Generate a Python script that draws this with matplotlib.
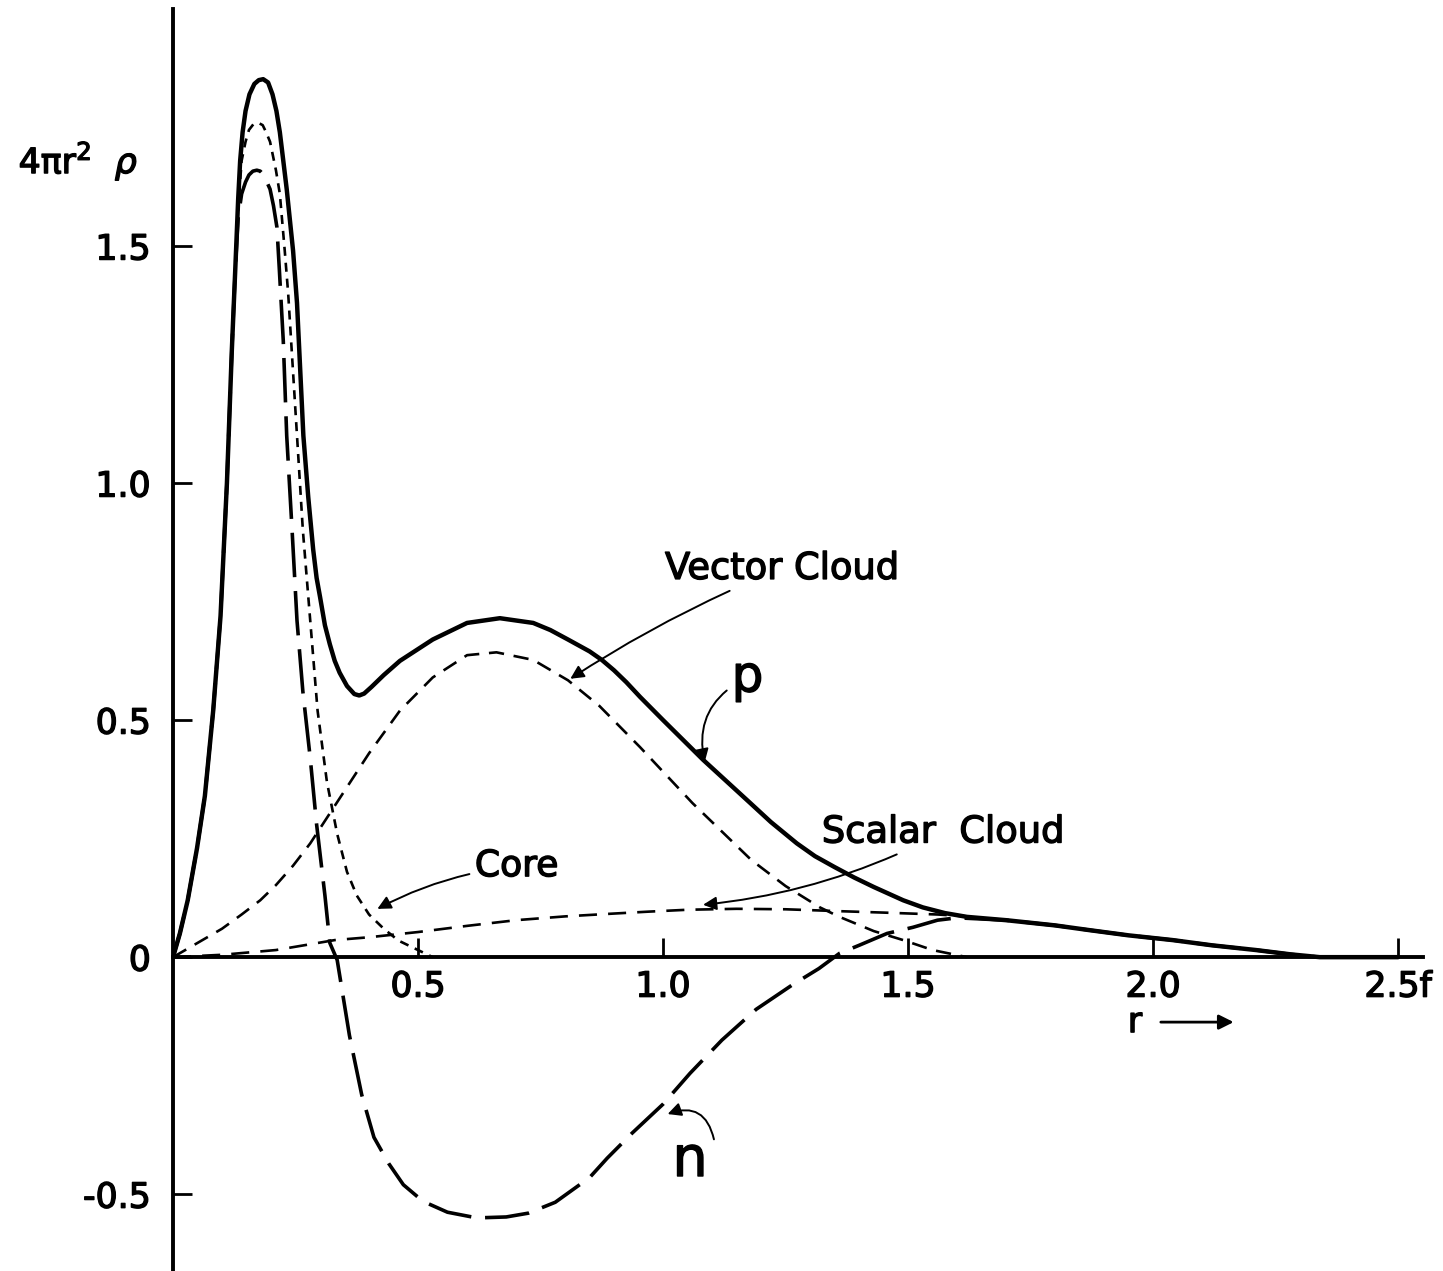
import matplotlib
matplotlib.use('Agg')
import matplotlib.pyplot as plt
import matplotlib.patheffects as pe

plt.rcParams['lines.scale_dashes'] = False
plt.rcParams['font.family'] = 'DejaVu Sans'

# radial densities (r in fermi)
p_r = [0.0, 0.014, 0.03, 0.049, 0.065, 0.082, 0.097, 0.11, 0.12, 0.127, 0.133, 0.137, 0.142,
       0.148, 0.156, 0.166, 0.175, 0.184, 0.194, 0.203, 0.211, 0.218, 0.225, 0.232, 0.239,
       0.245, 0.253, 0.266, 0.276, 0.286, 0.293, 0.30, 0.31, 0.32, 0.33, 0.34, 0.355, 0.37,
       0.38, 0.39, 0.405, 0.43, 0.463, 0.53, 0.60, 0.667, 0.735, 0.77, 0.806, 0.85, 0.875,
       0.90, 0.925, 0.953, 1.0, 1.082, 1.178, 1.22, 1.273, 1.31, 1.35, 1.39, 1.43, 1.49,
       1.53, 1.575, 1.62, 1.70, 1.80, 1.87, 1.95, 2.04, 2.12, 2.21, 2.28, 2.34, 2.5]
p_v = [0.0, 0.05, 0.12, 0.23, 0.34, 0.52, 0.72, 1.0, 1.28, 1.45, 1.60, 1.68, 1.74,
       1.785, 1.82, 1.842, 1.85, 1.852, 1.845, 1.82, 1.785, 1.74, 1.68, 1.62, 1.55,
       1.49, 1.38, 1.10, 0.97, 0.86, 0.80, 0.76, 0.70, 0.66, 0.625, 0.60, 0.572, 0.555,
       0.552, 0.556, 0.57, 0.595, 0.625, 0.67, 0.705, 0.715, 0.705, 0.69, 0.67, 0.645, 0.627,
       0.605, 0.58, 0.549, 0.50, 0.416, 0.325, 0.285, 0.24, 0.213, 0.19, 0.168, 0.148, 0.12,
       0.105, 0.093, 0.085, 0.078, 0.067, 0.057, 0.046, 0.036, 0.025, 0.015, 0.006, 0.0, 0.0]

core_r = [0.0, 0.014, 0.03, 0.049, 0.065, 0.082, 0.097, 0.11, 0.12, 0.127, 0.133, 0.14, 0.148,
          0.155, 0.164, 0.174, 0.183, 0.19, 0.198, 0.21, 0.218, 0.228, 0.235, 0.253, 0.265,
          0.28, 0.295, 0.314, 0.335, 0.355, 0.375, 0.40, 0.43, 0.46, 0.50, 0.53]
core_v = [0.0, 0.05, 0.12, 0.23, 0.34, 0.52, 0.72, 1.0, 1.28, 1.45, 1.58, 1.68, 1.72,
          1.745, 1.757, 1.76, 1.755, 1.74, 1.72, 1.66, 1.61, 1.49, 1.40, 1.10, 0.90,
          0.71, 0.52, 0.37, 0.26, 0.18, 0.13, 0.09, 0.06, 0.035, 0.015, 0.0]

n_r = [0.0, 0.014, 0.03, 0.049, 0.065, 0.082, 0.097, 0.11, 0.12, 0.127, 0.133, 0.14, 0.148,
       0.155, 0.163, 0.171, 0.178, 0.185, 0.198, 0.205, 0.212, 0.217, 0.225, 0.232, 0.243,
       0.253, 0.265, 0.28, 0.293, 0.31, 0.32, 0.335, 0.36, 0.385, 0.41, 0.44, 0.47, 0.51,
       0.56, 0.62, 0.68, 0.725, 0.78, 0.85, 0.886, 0.937, 1.0, 1.055, 1.12, 1.19, 1.263,
       1.318, 1.36, 1.40, 1.457, 1.51, 1.56, 1.60, 1.70, 1.80, 1.87, 1.95, 2.04, 2.12, 2.21,
       2.28, 2.34]
n_v = [0.0, 0.05, 0.12, 0.23, 0.34, 0.52, 0.72, 1.0, 1.28, 1.45, 1.56, 1.61, 1.635,
       1.65, 1.658, 1.66, 1.658, 1.65, 1.62, 1.585, 1.54, 1.45, 1.30, 1.10, 0.90,
       0.71, 0.56, 0.42, 0.28, 0.13, 0.03, -0.006, -0.165, -0.29, -0.38, -0.435, -0.48, -0.515,
       -0.538, -0.55, -0.548, -0.54, -0.517, -0.465, -0.424, -0.371, -0.31, -0.245, -0.175, -0.11, -0.059,
       -0.024, 0.008, 0.025, 0.05, 0.063, 0.078, 0.083, 0.078, 0.067, 0.057, 0.046, 0.036, 0.025, 0.015,
       0.006, 0.0]

vec_r = [0.0, 0.05, 0.10, 0.14, 0.178, 0.21, 0.245, 0.28, 0.34, 0.40, 0.463, 0.53, 0.60,
         0.66, 0.735, 0.806, 0.87, 0.953, 1.06, 1.18, 1.25, 1.32, 1.36, 1.43, 1.49, 1.55, 1.62]
vec_v = [0.0, 0.03, 0.06, 0.09, 0.12, 0.152, 0.193, 0.24, 0.335, 0.43, 0.52, 0.59, 0.637,
         0.643, 0.627, 0.584, 0.53, 0.443, 0.325, 0.205, 0.15, 0.105, 0.085, 0.055, 0.036,
         0.015, 0.0]

sca_r = [0.0, 0.1, 0.21, 0.33, 0.40, 0.50, 0.60, 0.70, 0.80, 0.90, 0.97, 1.05, 1.15, 1.25,
         1.36, 1.45, 1.56, 1.62]
sca_v = [0.0, 0.005, 0.015, 0.036, 0.042, 0.053, 0.066, 0.078, 0.086, 0.092, 0.096, 0.100,
         0.102, 0.101, 0.097, 0.094, 0.090, 0.086]

xticks = [0.5, 1.0, 1.5, 2.0, 2.5]
xticklabels = ['0.5', '1.0', '1.5', '2.0', '2.5f']
yticks = [-0.5, 0, 0.5, 1.0, 1.5]
yticklabels = ['-0.5', '0', '0.5', '1.0', '1.5']

heavy = [pe.withStroke(linewidth=1.0, foreground='black')]

fig = plt.figure(figsize=(14.43, 12.71), dpi=100)
ax = fig.add_axes([0.1199, 0.0, 0.866, 1.0])

ax.plot(p_r, p_v, color='black', lw=3.2, solid_joinstyle='round', solid_capstyle='round')
ax.plot(core_r, core_v, color='black', lw=1.9, dashes=(6.5, 5))
ax.plot(vec_r, vec_v, color='black', lw=1.9, dashes=(11, 7))
ax.plot(sca_r, sca_v, color='black', lw=1.9, dashes=(13, 8))
ax.plot(n_r, n_v, color='black', lw=2.6, dashes=(32, 10))

ax.set_xlim(0, 2.55)
ax.set_ylim(-0.662, 2.019)
for s in ['top', 'right']:
    ax.spines[s].set_visible(False)
ax.spines['bottom'].set_position(('data', 0))
ax.spines['left'].set_position(('data', 0))
ax.spines['left'].set_bounds(-0.662, 2.0)
ax.spines['bottom'].set_linewidth(2.8)
ax.spines['left'].set_linewidth(2.8)

ax.set_xticks(xticks)
ax.set_xticklabels(xticklabels)
ax.set_yticks(yticks)
ax.set_yticklabels(yticklabels)
ax.tick_params(axis='both', direction='in', length=14, width=2, labelsize=25)
ax.tick_params(axis='x', pad=9)
ax.tick_params(axis='y', pad=16)
for lab in ax.get_xticklabels() + ax.get_yticklabels():
    lab.set_path_effects(heavy)

# axis title and r arrow
ax.text(-0.315, 1.68, '4πr$^2$  $\\rho$', fontsize=25, ha='left', va='center',
        path_effects=heavy)
ax.text(1.963, -0.137, 'r', fontsize=25, ha='center', va='center', path_effects=heavy)
ax.annotate('', xy=(2.17, -0.137), xytext=(2.01, -0.137),
            arrowprops=dict(arrowstyle='-|>', color='black', lw=2, mutation_scale=22))

# curve labels
arrow = dict(arrowstyle='-|>', color='black', lw=1.4, mutation_scale=20)
ax.annotate('Vector Cloud', xy=(0.806, 0.584), xytext=(1.004, 0.82), fontsize=26.5,
            ha='left', va='center', path_effects=heavy,
            arrowprops=dict(arrow, connectionstyle='arc3,rad=0.05'))
ax.annotate('p', xy=(1.086, 0.405), xytext=(1.14, 0.59), fontsize=36,
            ha='left', va='center', path_effects=heavy,
            arrowprops=dict(arrow, connectionstyle='arc3,rad=0.4'))
ax.annotate('Scalar  Cloud', xy=(1.076, 0.11), xytext=(1.324, 0.264), fontsize=26.5,
            ha='left', va='center', path_effects=heavy,
            arrowprops=dict(arrow, connectionstyle='arc3,rad=-0.1'))
ax.annotate('Core', xy=(0.412, 0.099), xytext=(0.616, 0.192), fontsize=26,
            ha='left', va='center', path_effects=heavy,
            arrowprops=dict(arrow, connectionstyle='arc3,rad=0.1'))
ax.text(1.055, -0.43, 'n', fontsize=40, ha='center', va='center', path_effects=heavy)
ax.annotate('', xy=(1.004, -0.333), xytext=(1.105, -0.39),
            arrowprops=dict(arrow, connectionstyle='arc3,rad=0.6'))

fig.savefig('out.png', dpi=100)
